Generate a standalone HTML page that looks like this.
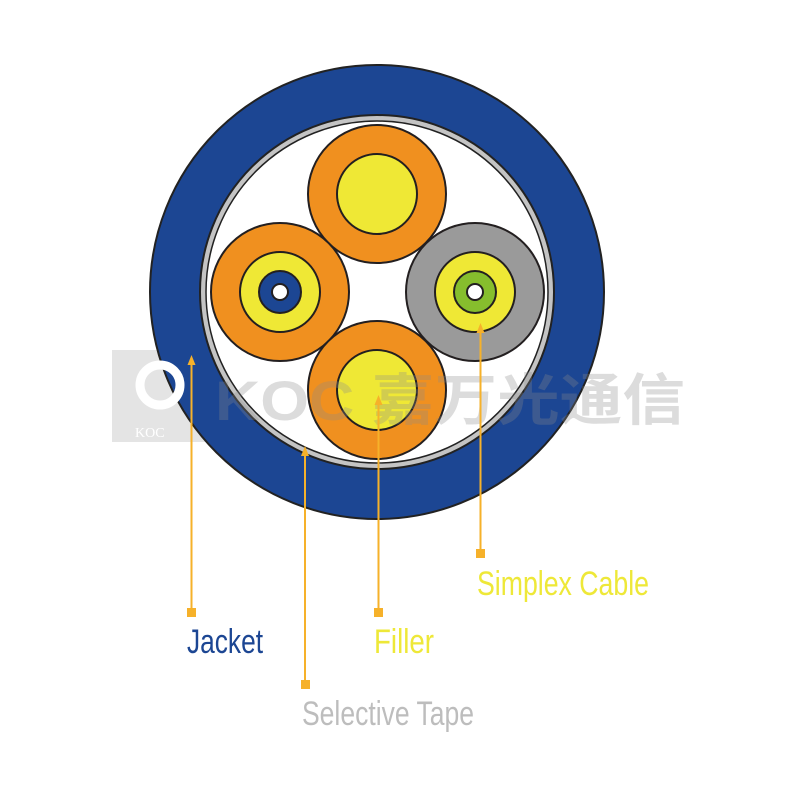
<!DOCTYPE html>
<html><head><meta charset="utf-8"><style>html,body{margin:0;padding:0;background:#fff}svg{display:block}</style></head>
<body>
<svg width="800" height="800" viewBox="0 0 800 800" xmlns="http://www.w3.org/2000/svg">
<rect width="800" height="800" fill="#fff"/>
<rect x="112" y="350" width="95" height="92" fill="#e4e4e4"/>
<circle cx="377" cy="292" r="227" fill="#1c4693" stroke="#222" stroke-width="2"/>
<circle cx="377" cy="292" r="177" fill="#c4c4c4" stroke="#222" stroke-width="2"/>
<circle cx="377" cy="292" r="171" fill="#fff" stroke="#222" stroke-width="1.5"/>
<g stroke="#231f20" stroke-width="2">
<circle cx="377" cy="194" r="69" fill="#f0901f"/>
<circle cx="377" cy="194" r="40" fill="#efe835"/>
<circle cx="280" cy="292" r="69" fill="#f0901f"/>
<circle cx="280" cy="292" r="40" fill="#efe835"/>
<circle cx="280" cy="292" r="21" fill="#1c4693"/>
<circle cx="280" cy="292" r="8" fill="#fff"/>
<circle cx="475" cy="292" r="69" fill="#9a9a9a"/>
<circle cx="475" cy="292" r="40" fill="#efe835"/>
<circle cx="475" cy="292" r="21" fill="#86be2d"/>
<circle cx="475" cy="292" r="8" fill="#fff"/>
<circle cx="377" cy="390" r="69" fill="#f0901f"/>
<circle cx="377" cy="390" r="40" fill="#efe835"/>
</g>
<text x="215" y="420" font-family="Liberation Sans, Noto Sans CJK SC, sans-serif" font-weight="bold" font-size="56" fill="rgba(140,140,140,0.3)" textLength="470" lengthAdjust="spacingAndGlyphs">KOC 嘉万光通信</text>
<text x="135" y="437" font-family="Liberation Serif, serif" font-size="14" fill="#fff">KOC</text>
<circle cx="160" cy="385" r="20" fill="none" stroke="#fff" stroke-width="9"/>
<g stroke="#f6b12a" stroke-width="2" fill="#f6b12a">
<line x1="191.5" y1="362" x2="191.5" y2="612"/>
<path d="M191.5 355 l-4 10 h8z" stroke="none"/>
<rect x="187" y="608" width="9" height="9" stroke="none"/>
<line x1="305" y1="453" x2="305" y2="684"/>
<path d="M305 446 l-4 10 h8z" stroke="none"/>
<rect x="301" y="680" width="9" height="9" stroke="none"/>
<line x1="378.5" y1="402" x2="378.5" y2="612"/>
<path d="M378.5 395 l-4 10 h8z" stroke="none"/>
<rect x="374" y="608" width="9" height="9" stroke="none"/>
<line x1="480.5" y1="330" x2="480.5" y2="553"/>
<path d="M480.5 323 l-4 10 h8z" stroke="none"/>
<rect x="476" y="549" width="9" height="9" stroke="none"/>
</g>
<g font-family="Liberation Sans, sans-serif" font-size="34">
<text x="477" y="595" fill="#eee838" textLength="172" lengthAdjust="spacingAndGlyphs">Simplex Cable</text>
<text x="187" y="653" fill="#1c4693" textLength="76" lengthAdjust="spacingAndGlyphs">Jacket</text>
<text x="374" y="653" fill="#eee838" textLength="60" lengthAdjust="spacingAndGlyphs">Filler</text>
<text x="302" y="725" fill="#bdbdbd" textLength="172" lengthAdjust="spacingAndGlyphs">Selective Tape</text>
</g>
</svg>
</body></html>
